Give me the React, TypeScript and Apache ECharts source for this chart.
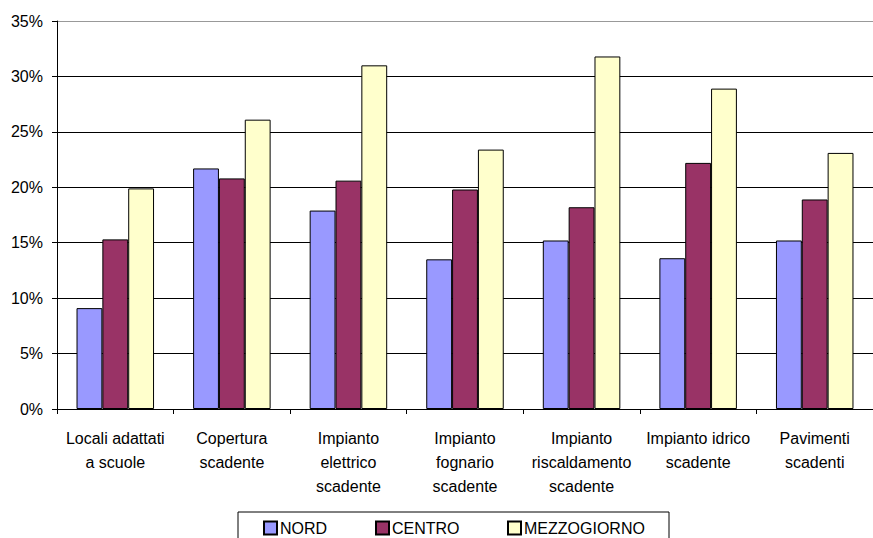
import React, { useEffect, useRef } from "react";
import * as echarts from "echarts";

const categories = [
  "Locali adattati\na scuole",
  "Copertura\nscadente",
  "Impianto\nelettrico\nscadente",
  "Impianto\nfognario\nscadente",
  "Impianto\nriscaldamento\nscadente",
  "Impianto idrico\nscadente",
  "Pavimenti\nscadenti",
];
const nord = [9.1, 21.7, 17.9, 13.5, 15.2, 13.6, 15.2];
const centro = [15.3, 20.8, 20.6, 19.8, 18.2, 22.2, 18.9];
const mezzogiorno = [19.9, 26.1, 31.0, 23.4, 31.8, 28.9, 23.1];
const yTicks = [0, 5, 10, 15, 20, 25, 30, 35];

const FONT = "'Liberation Sans', Arial, sans-serif";

export default function App() {
  const ref = useRef<HTMLDivElement>(null);
  useEffect(() => {
    if (!ref.current) return;
    const chart = echarts.init(ref.current, undefined, { renderer: "svg" });
    const mkSeries = (name: string, data: number[], color: string) => ({
      name,
      type: "bar",
      data,
      barGap: "0%",
      barCategoryGap: "33.5%",
      itemStyle: { color, borderColor: "#000", borderWidth: 1 },
    });
    const legendBase = {
      top: 520,
      padding: 0,
      icon: "rect",
      itemWidth: 13,
      itemHeight: 13,
      itemGap: 3,
      textStyle: { fontFamily: FONT, fontSize: 16, color: "#000", padding: [0, 0, 0, -2] },
    };
    chart.setOption({
      animation: false,
      textStyle: { fontFamily: FONT },
      grid: { left: 57, right: -8, top: 21, bottom: 129, containLabel: false },
      xAxis: {
        type: "category",
        data: categories,
        axisLine: { lineStyle: { color: "#000", width: 1 } },
        axisTick: { show: true, length: 5, lineStyle: { color: "#000" }, alignWithLabel: false },
        axisLabel: {
          interval: 0,
          margin: 17,
          fontFamily: FONT,
          fontSize: 16,
          lineHeight: 24,
          color: "#000",
        },
      },
      yAxis: {
        type: "value",
        min: 0,
        max: 35,
        interval: 5,
        axisLine: { show: true, lineStyle: { color: "#000", width: 1 } },
        axisTick: { show: true, length: 5, lineStyle: { color: "#000" } },
        splitLine: {
          show: true,
          lineStyle: {
            color: ["#000", "#000", "#000", "#000", "#000", "#000", "#000", "#999"],
            width: 1,
          },
        },
        axisLabel: {
          margin: 14,
          fontFamily: FONT,
          fontSize: 16,
          color: "#000",
          formatter: (v: number) => (yTicks.includes(v) ? `${v}%` : ""),
        },
      },
      legend: [
        { ...legendBase, left: 263, data: ["NORD"] },
        { ...legendBase, left: 375, data: ["CENTRO"] },
        { ...legendBase, left: 507, data: ["MEZZOGIORNO"] },
      ],
      graphic: [
        {
          type: "rect",
          shape: { x: 238, y: 512, width: 431, height: 40 },
          style: { fill: "none", stroke: "#000", lineWidth: 1 },
          silent: true,
        },
      ],
      series: [
        mkSeries("NORD", nord, "#9999FF"),
        mkSeries("CENTRO", centro, "#993366"),
        mkSeries("MEZZOGIORNO", mezzogiorno, "#FFFFCC"),
      ],
    });
    return () => chart.dispose();
  }, []);
  return <div ref={ref} style={{ width: 873, height: 538, position: "absolute", left: 0, top: 0 }} />;
}
